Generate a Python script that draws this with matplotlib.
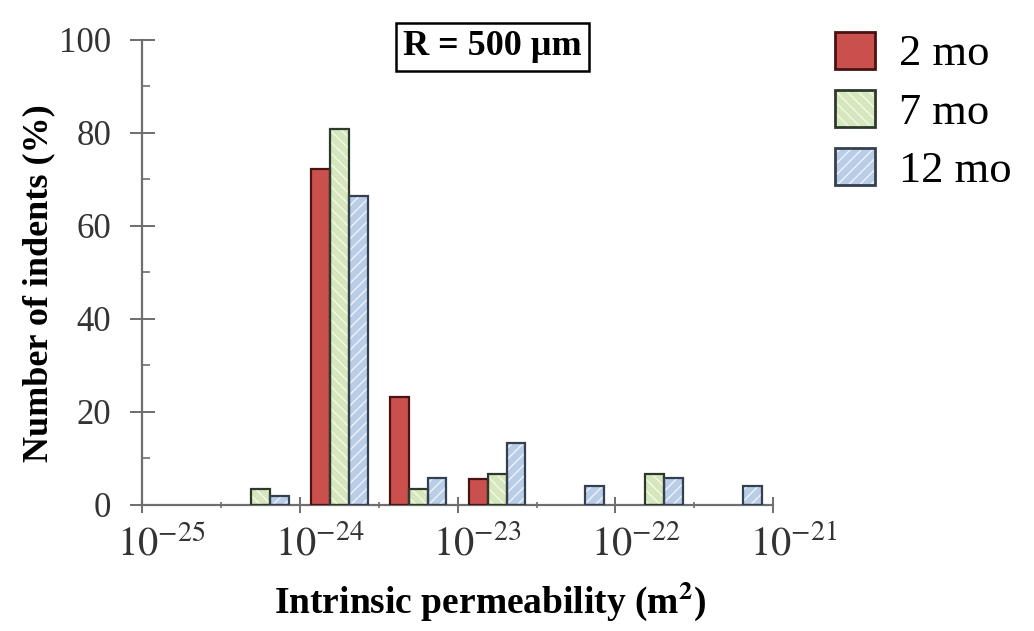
import numpy as np
import matplotlib
matplotlib.use("Agg")
import matplotlib.pyplot as plt
from matplotlib.patches import Patch
from matplotlib.legend_handler import HandlerTuple
from matplotlib.transforms import ScaledTranslation

plt.rcParams["font.family"] = ["Liberation Serif", "DejaVu Serif"]
plt.rcParams["mathtext.fontset"] = "stix"

# bin centres, log10 of permeability (m^2), half-decade bins
bin_centers = [-24.25, -23.75, -23.25, -22.75, -22.25, -21.75, -21.25]
series = ["2 mo", "7 mo", "12 mo"]
pct_2mo = [0, 72.2, 23.2, 5.5, 0, 0, 0]
pct_7mo = [3.4, 80.8, 3.4, 6.6, 0, 6.6, 0]
pct_12mo = [1.9, 66.5, 5.8, 13.3, 4.0, 5.8, 4.0]
xtick_pos = [-25, -24, -23, -22, -21]
xtick_labels = ["$10^{-25}$", "$10^{-24}$", "$10^{-23}$", "$10^{-22}$", "$10^{-21}$"]

fills = ["#c9504d", "#d6e7bd", "#b9cde7"]
hatch_cols = ["#c9504d", "#f4f8e6", "#eef3fb"]
edges = ["#4a1212", "#2c3a2c", "#34404f"]
hatches = [None, "\\\\\\", "///"]

fig = plt.figure(figsize=(10.34, 6.31), dpi=100)
ax = fig.add_axes([0.137, 0.20, 0.611, 0.737])

w = 0.12
x = np.array(bin_centers)
handles = []
for i, vals in enumerate([pct_2mo, pct_7mo, pct_12mo]):
    vals = np.array(vals)
    keep = vals > 0
    pos = x[keep] + (i - 1) * w
    ax.bar(pos, vals[keep], width=w, color=fills[i], edgecolor=hatch_cols[i],
           hatch=hatches[i], linewidth=0, zorder=2)
    ax.bar(pos, vals[keep], width=w, fill=False, edgecolor=edges[i],
           linewidth=1.6, zorder=3)
    h1 = Patch(facecolor=fills[i], edgecolor=hatch_cols[i] if i else fills[i],
               hatch=hatches[i], linewidth=0)
    h2 = Patch(fill=False, edgecolor=edges[i], linewidth=2.0)
    handles.append((h1, h2))

ax.set_xlim(-25, -21)
ax.set_ylim(0, 100)
for s in ["top", "right"]:
    ax.spines[s].set_visible(False)
for s in ["left", "bottom"]:
    ax.spines[s].set_color("#6e6e6e")
    ax.spines[s].set_linewidth(1.6)

ax.set_yticks(np.arange(0, 101, 20))
ax.set_yticks(np.arange(10, 100, 20), minor=True)
ax.set_xticks(xtick_pos)
ax.set_xticklabels(xtick_labels)
ax.set_xticks(np.arange(-24.5, -21, 1.0), minor=True)
ax.tick_params(axis="y", which="major", direction="inout", length=18, width=1.4,
               color="#6e6e6e", labelsize=25, pad=13, labelcolor="#333333")
ax.tick_params(axis="y", which="minor", direction="in", length=6, width=1.2,
               color="#6e6e6e")
ax.tick_params(axis="x", which="major", direction="inout", length=12, width=1.4,
               color="#6e6e6e", labelsize=29, pad=9, labelcolor="#333333")
ax.tick_params(axis="x", which="minor", direction="inout", length=4, width=1.2,
               color="#6e6e6e")
for lab in ax.get_xticklabels():
    lab.set_transform(lab.get_transform() + ScaledTranslation(0.2, 0, fig.dpi_scale_trans))

ax.set_ylabel("Number of indents (%)", fontsize=26, fontweight="bold")
ax.yaxis.set_label_coords(-0.137, 0.477)
ax.set_xlabel("Intrinsic permeability (m$^\\mathbf{2}$)", fontsize=27,
              fontweight="bold")
ax.xaxis.set_label_coords(0.551, -0.16)

fig.text(0.476, 0.952, "R = 500 µm", ha="center", va="top",
         fontsize=26, fontweight="bold",
         bbox=dict(boxstyle="square,pad=0.2", facecolor="white",
                   edgecolor="black", linewidth=1.8))

fig.legend(handles, series, handler_map={tuple: HandlerTuple(ndivide=1, pad=0)},
           loc="upper left", bbox_to_anchor=(0.79, 0.978), frameon=False,
           fontsize=32, handlelength=0.9, handleheight=0.9, labelspacing=0.35,
           handletextpad=0.55, borderaxespad=0)

fig.savefig("out.png", dpi=100)
